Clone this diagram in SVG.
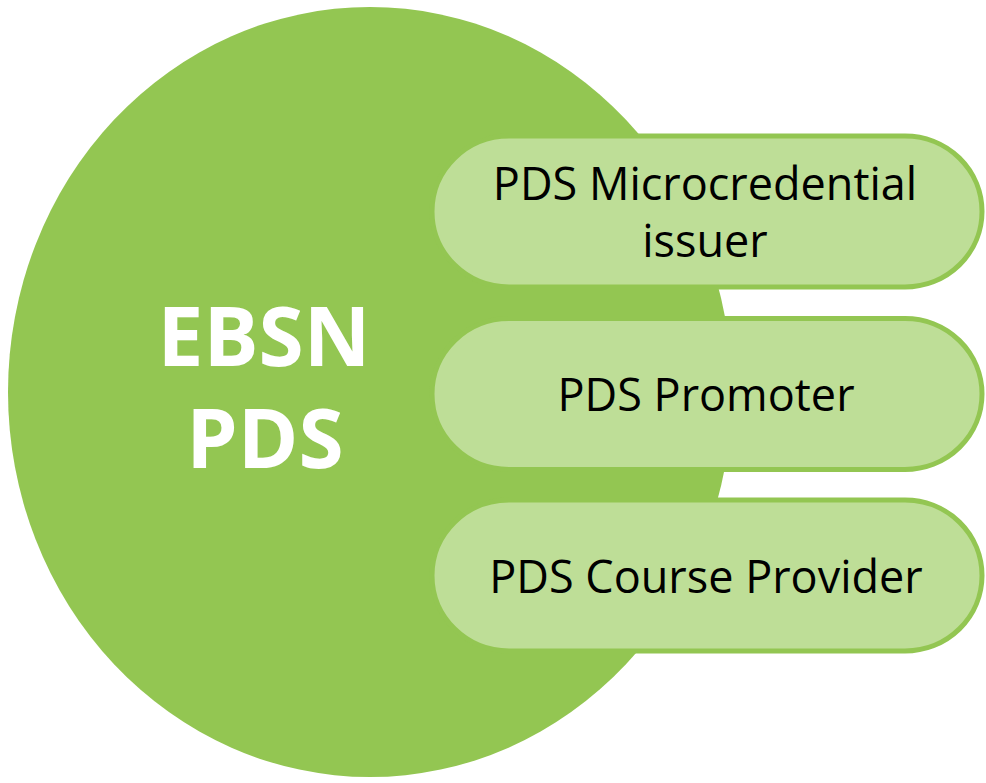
<svg xmlns="http://www.w3.org/2000/svg" width="986" height="783" viewBox="0 0 986 783">
<style>
.pill{fill:#BEDE97;stroke:#93C652;stroke-width:5}
.lbl{font-family:"Open Sans","Noto Sans","Liberation Sans",sans-serif;font-size:45px;fill:#000;text-anchor:middle}
.big{font-family:"Open Sans","Noto Sans","Liberation Sans",sans-serif;font-size:82px;font-weight:bold;fill:#fff;text-anchor:middle}
</style>
<rect width="986" height="783" fill="#fff"/>
<g id="ebsn">
<ellipse cx="370" cy="392" rx="362" ry="385" fill="#93C652"/>
<text class="big" x="264" y="366">EBSN</text>
<text class="big" x="265" y="468">PDS</text>
</g>
<g id="connectors"></g>
<g id="issuer">
<rect class="pill" x="432" y="136" width="550" height="151" rx="77" ry="75.5"/>
<text class="lbl" x="705" y="200">PDS Microcredential</text>
<text class="lbl" x="705" y="257">issuer</text>
</g>
<g id="promoter">
<rect class="pill" x="432" y="318.5" width="550" height="151" rx="77" ry="75.5"/>
<text class="lbl" x="706" y="411">PDS Promoter</text>
</g>
<g id="provider">
<rect class="pill" x="432" y="500" width="550" height="151" rx="77" ry="75.5"/>
<text class="lbl" x="706" y="593">PDS Course Provider</text>
</g>
</svg>
